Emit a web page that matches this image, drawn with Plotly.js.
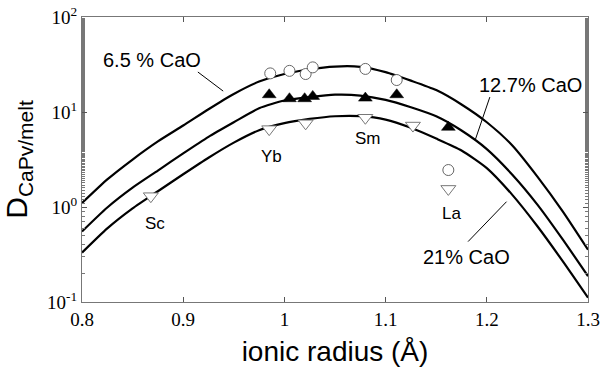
<!DOCTYPE html>
<html>
<head>
<meta charset="utf-8">
<script src="https://cdn.plot.ly/plotly-3.0.1.min.js"></script>
<style>html,body{margin:0;padding:0;background:#fff;}#chart{width:606px;height:371px;}</style>
</head>
<body>
<div id="chart"></div>
<script>
// ionic radius grid for model curves (Å)
const radiusGrid = [0.800,0.825,0.850,0.875,0.900,0.925,0.950,0.975,1.000,1.025,1.050,1.075,1.100,1.125,1.150,1.175,1.200,1.225,1.250,1.275,1.300];
// D values
const curve65 = [1.10,1.95,3.16,4.9,7.2,10.7,15.5,20.9,25.1,28.2,30.1,29.9,26.3,21.4,17.0,12.0,7.8,4.47,2.09,0.90,0.355];
const curve127 = [0.553,0.989,1.60,2.42,3.67,5.48,7.80,10.96,13.2,14.35,15.2,14.9,13.4,11.2,9.0,6.38,4.07,2.20,1.06,0.456,0.187];
const curve21 = [0.331,0.596,0.968,1.466,2.21,3.30,4.76,6.43,7.64,8.45,9.02,9.04,8.32,6.82,5.25,3.94,2.57,1.35,0.627,0.269,0.111];

// measured partition coefficients
const circR = [0.986,1.005,1.021,1.028,1.080,1.111,1.162];
const circD = [25.5,27.1,25.1,29.5,28.4,21.7,2.45];
const triR = [0.985,1.005,1.020,1.028,1.080,1.111,1.162];
const triD = [15.2,13.8,13.8,14.6,14.0,15.2,6.9];
const dtriR = [0.868,0.985,1.021,1.080,1.127,1.162];
const dtriD = [1.30,6.6,7.6,8.7,7.2,1.55];

const xTickVals = [0.8,0.9,1.0,1.1,1.2,1.3];
const xTickText = ['0.8','0.9','1','1.1','1.2','1.3'];
const yTickVals = [0.1,1,10,100];
const yTickText = ['10<sup>-1</sup>','10<sup>0</sup>','10<sup>1</sup>','10<sup>2</sup>'];

const lineStyle = {color:'#000', width:2.2, shape:'spline', smoothing:0.6};
const traces = [
  {x:radiusGrid, y:curve65, mode:'lines', line:lineStyle, name:'6.5 % CaO'},
  {x:radiusGrid, y:curve127, mode:'lines', line:lineStyle, name:'12.7% CaO'},
  {x:radiusGrid, y:curve21, mode:'lines', line:lineStyle, name:'21% CaO'},
  {x:circR, y:circD, mode:'markers', name:'6.5 %', marker:{symbol:'circle', size:11, color:'#fff', line:{color:'#666', width:1}}},
  {x:triR, y:triD, mode:'markers', name:'12.7 %', marker:{symbol:'triangle-up', size:12, color:'#000', line:{color:'#000', width:0.5}}},
  {x:dtriR, y:dtriD, mode:'markers', name:'21 %', marker:{symbol:'triangle-down', size:13, color:'#fff', line:{color:'#777', width:1}}}
];

const serif = 'Liberation Serif';
const labFont = {family:'Liberation Sans', size:17, color:'#000'};
const bigFont = {family:'Liberation Sans', size:20, color:'#000'};
function ann(text, x, y, font){return {text:text, x:x, y:y, xref:'paper', yref:'paper', showarrow:false, font:font, xanchor:'center', yanchor:'middle'};}
function seg(x0,y0,x1,y1){return {type:'line', xref:'paper', yref:'paper', x0:x0, y0:y0, x1:x1, y1:y1, line:{color:'#000', width:1}};}

const layout = {
  width:606, height:371,
  margin:{l:82, r:18, t:17, b:69},
  paper_bgcolor:'#fff', plot_bgcolor:'#fff',
  showlegend:false,
  xaxis:{
    range:[0.8,1.3], tickvals:xTickVals, ticktext:xTickText,
    ticks:'inside', ticklen:5, tickcolor:'#555', showline:true, linecolor:'#777', linewidth:1, mirror:'allticks',
    showgrid:false, zeroline:false,
    tickfont:{family:serif, size:19, color:'#000'},
    title:{text:'ionic radius (Å)', font:{family:'Liberation Sans', size:28, color:'#000'}, standoff:12}
  },
  yaxis:{
    type:'log', range:[-1,2], tickvals:yTickVals, ticktext:yTickText,
    ticks:'inside', ticklen:5, tickcolor:'#555', showline:true, linecolor:'#777', linewidth:1, mirror:'allticks',
    showgrid:false, zeroline:false,
    minor:{ticks:'inside', ticklen:3, tickcolor:'#777', showgrid:false},
    tickfont:{family:serif, size:19, color:'#000'},
    title:{text:'D<sub>CaPv/melt</sub>', font:{family:'Liberation Sans', size:30, color:'#000'}, standoff:14}
  },
  annotations:[
    ann('6.5 % CaO', 0.138, 0.849, bigFont),
    ann('12.7% CaO', 0.887, 0.761, bigFont),
    ann('21% CaO', 0.759, 0.158, bigFont),
    ann('Sc', 0.144, 0.277, labFont),
    ann('Yb', 0.375, 0.512, labFont),
    ann('Sm', 0.566, 0.574, labFont),
    ann('La', 0.731, 0.311, labFont)
  ],
  shapes:[
    seg(0.229,0.807,0.279,0.740),
    seg(0.806,0.719,0.777,0.568),
    seg(0.839,0.352,0.763,0.212)
  ]
};
Plotly.newPlot('chart', traces, layout, {displayModeBar:false, staticPlot:true});
</script>
</body>
</html>
